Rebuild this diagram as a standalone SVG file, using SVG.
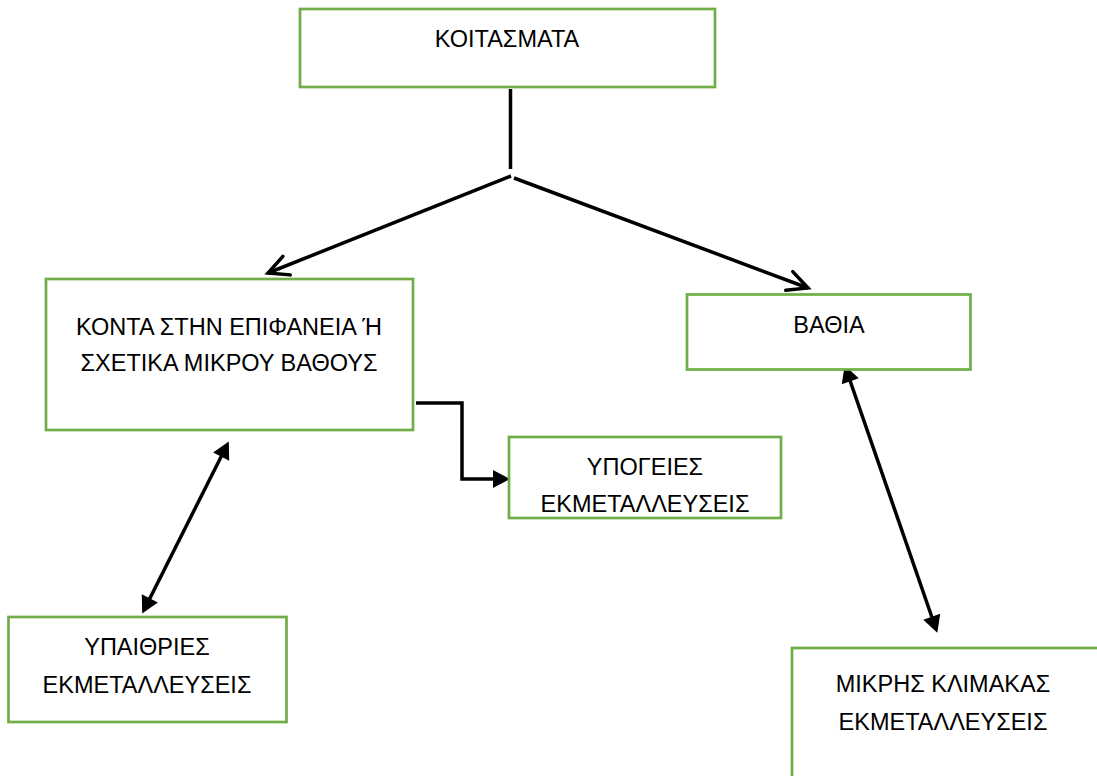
<svg xmlns="http://www.w3.org/2000/svg" width="1097" height="776" viewBox="0 0 1097 776">
  <style>
    .box { fill: #ffffff; stroke: #70AD47; stroke-width: 2.7; }
    .lbl { font-family: "Liberation Sans", Arial, sans-serif; font-size: 23.5px; fill: #000000; text-anchor: middle; }
    .conn { fill: none; stroke: #000000; stroke-width: 3.5; }
  </style>
  <defs>
    <marker id="open" markerUnits="userSpaceOnUse" markerWidth="30" markerHeight="30" refX="0" refY="0" orient="auto" overflow="visible">
      <path d="M -20,-10 L 0,0 L -20,10" fill="none" stroke="#000" stroke-width="3.5" stroke-linecap="round" stroke-linejoin="miter"/>
    </marker>
    <marker id="tri" markerUnits="userSpaceOnUse" markerWidth="30" markerHeight="30" refX="13" refY="0" orient="auto-start-reverse" overflow="visible">
      <path d="M 0,-9 L 17,0 L 0,9 Z" fill="#000"/>
    </marker>
  </defs>

  <g id="connectors">
    <line class="conn" x1="510.5" y1="89" x2="510.5" y2="169"/>
    <line class="conn" x1="511" y1="176" x2="268" y2="273" marker-end="url(#open)"/>
    <line class="conn" x1="514" y1="178" x2="808" y2="288" marker-end="url(#open)"/>
    <path class="conn" d="M 416,403 H 462 V 479 H 506" marker-end="url(#tri)"/>
    <line class="conn" x1="227" y1="445" x2="144" y2="610" marker-start="url(#tri)" marker-end="url(#tri)"/>
    <line class="conn" x1="846" y1="369" x2="936" y2="629" marker-start="url(#tri)" marker-end="url(#tri)"/>
  </g>

  <g id="node-koitasmata">
    <rect class="box" x="300" y="9" width="415" height="78"/>
    <text class="lbl" x="507" y="47">ΚΟΙΤΑΣΜΑΤΑ</text>
  </g>

  <g id="node-konta">
    <rect class="box" x="46" y="279" width="367" height="151"/>
    <text class="lbl" x="229" y="335">ΚΟΝΤΑ ΣΤΗΝ ΕΠΙΦΑΝΕΙΑ Ή</text>
    <text class="lbl" x="229" y="371">ΣΧΕΤΙΚΑ ΜΙΚΡΟΥ ΒΑΘΟΥΣ</text>
  </g>

  <g id="node-vathia">
    <rect class="box" x="687" y="294.5" width="283.5" height="75"/>
    <text class="lbl" x="829" y="333">ΒΑΘΙΑ</text>
  </g>

  <g id="node-ypogeies">
    <rect class="box" x="509" y="437" width="272" height="81"/>
    <text class="lbl" x="645" y="475">ΥΠΟΓΕΙΕΣ</text>
    <text class="lbl" x="645" y="512">ΕΚΜΕΤΑΛΛΕΥΣΕΙΣ</text>
  </g>

  <g id="node-ypaithries">
    <rect class="box" x="8.5" y="617" width="278" height="105"/>
    <text class="lbl" x="147" y="655">ΥΠΑΙΘΡΙΕΣ</text>
    <text class="lbl" x="147" y="693">ΕΚΜΕΤΑΛΛΕΥΣΕΙΣ</text>
  </g>

  <g id="node-mikris">
    <rect class="box" x="792" y="648" width="400" height="200"/>
    <text class="lbl" x="943" y="692">ΜΙΚΡΗΣ ΚΛΙΜΑΚΑΣ</text>
    <text class="lbl" x="943" y="730">ΕΚΜΕΤΑΛΛΕΥΣΕΙΣ</text>
  </g>
</svg>
